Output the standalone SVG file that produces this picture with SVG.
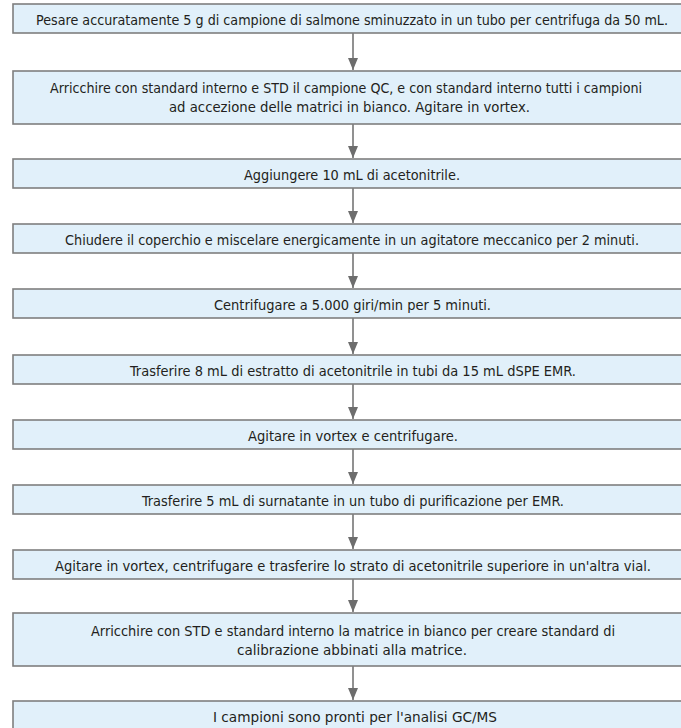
<svg xmlns="http://www.w3.org/2000/svg" width="681" height="728" viewBox="0 0 681 728">
<defs>
<style>
.box{fill:#e1f0fa;stroke:#7f7f7f;stroke-width:1.6}
.t{font-family:"Liberation Sans Narrow","DejaVu Sans Condensed","Liberation Sans",sans-serif;font-size:14.5px;fill:#231f20}
.c{stroke:#6d6d6d;stroke-width:1.5;fill:none}
</style>
<marker id="ah" viewBox="0 0 12 10" refX="12" refY="5" markerWidth="12" markerHeight="10" markerUnits="userSpaceOnUse" orient="auto">
<path d="M0,0 L12,5 L0,10 z" fill="#6d6d6d"/>
</marker>
</defs>
<rect width="681" height="728" fill="#ffffff"/>
<g id="connectors">
<line class="c" x1="353" y1="33" x2="353" y2="70" marker-end="url(#ah)"/>
<line class="c" x1="353" y1="124" x2="353" y2="158" marker-end="url(#ah)"/>
<line class="c" x1="353" y1="188" x2="353" y2="223" marker-end="url(#ah)"/>
<line class="c" x1="353" y1="253" x2="353" y2="288" marker-end="url(#ah)"/>
<line class="c" x1="353" y1="318" x2="353" y2="354" marker-end="url(#ah)"/>
<line class="c" x1="353" y1="384" x2="353" y2="419" marker-end="url(#ah)"/>
<line class="c" x1="353" y1="449" x2="353" y2="484" marker-end="url(#ah)"/>
<line class="c" x1="353" y1="514" x2="353" y2="549" marker-end="url(#ah)"/>
<line class="c" x1="353" y1="579" x2="353" y2="612" marker-end="url(#ah)"/>
<line class="c" x1="353" y1="666" x2="353" y2="700" marker-end="url(#ah)"/>
</g>
<g id="n1"><rect class="box" x="13" y="4" width="690" height="29"/>
<text class="t" x="36" y="25" textLength="632" lengthAdjust="spacingAndGlyphs">Pesare accuratamente 5 g di campione di salmone sminuzzato in un tubo per centrifuga da 50 mL.</text></g>
<g id="n2"><rect class="box" x="13" y="71" width="690" height="53"/>
<text class="t" x="50" y="93" textLength="592" lengthAdjust="spacingAndGlyphs">Arricchire con standard interno e STD il campione QC, e con standard interno tutti i campioni</text>
<text class="t" x="169" y="112" textLength="361" lengthAdjust="spacingAndGlyphs">ad accezione delle matrici in bianco. Agitare in vortex.</text></g>
<g id="n3"><rect class="box" x="13" y="159" width="690" height="29"/>
<text class="t" x="244" y="180" textLength="216" lengthAdjust="spacingAndGlyphs">Aggiungere 10 mL di acetonitrile.</text></g>
<g id="n4"><rect class="box" x="13" y="224" width="690" height="29"/>
<text class="t" x="65" y="245" textLength="574" lengthAdjust="spacingAndGlyphs">Chiudere il coperchio e miscelare energicamente in un agitatore meccanico per 2 minuti.</text></g>
<g id="n5"><rect class="box" x="13" y="289" width="690" height="29"/>
<text class="t" x="214" y="310" textLength="277" lengthAdjust="spacingAndGlyphs">Centrifugare a 5.000 giri/min per 5 minuti.</text></g>
<g id="n6"><rect class="box" x="13" y="355" width="690" height="29"/>
<text class="t" x="130" y="376" textLength="446" lengthAdjust="spacingAndGlyphs">Trasferire 8 mL di estratto di acetonitrile in tubi da 15 mL dSPE EMR.</text></g>
<g id="n7"><rect class="box" x="13" y="420" width="690" height="29"/>
<text class="t" x="248" y="441" textLength="210" lengthAdjust="spacingAndGlyphs">Agitare in vortex e centrifugare.</text></g>
<g id="n8"><rect class="box" x="13" y="485" width="690" height="29"/>
<text class="t" x="142" y="506" textLength="422" lengthAdjust="spacingAndGlyphs">Trasferire 5 mL di surnatante in un tubo di purificazione per EMR.</text></g>
<g id="n9"><rect class="box" x="13" y="550" width="690" height="29"/>
<text class="t" x="55" y="571" textLength="596" lengthAdjust="spacingAndGlyphs">Agitare in vortex, centrifugare e trasferire lo strato di acetonitrile superiore in un'altra vial.</text></g>
<g id="n10"><rect class="box" x="13" y="613" width="690" height="53"/>
<text class="t" x="91" y="636" textLength="524" lengthAdjust="spacingAndGlyphs">Arricchire con STD e standard interno la matrice in bianco per creare standard di</text>
<text class="t" x="237" y="655" textLength="230" lengthAdjust="spacingAndGlyphs">calibrazione abbinati alla matrice.</text></g>
<g id="n11"><rect class="box" x="13" y="701" width="690" height="32"/>
<text class="t" x="213" y="722" textLength="284" lengthAdjust="spacingAndGlyphs">I campioni sono pronti per l'analisi GC/MS</text></g>
</svg>
